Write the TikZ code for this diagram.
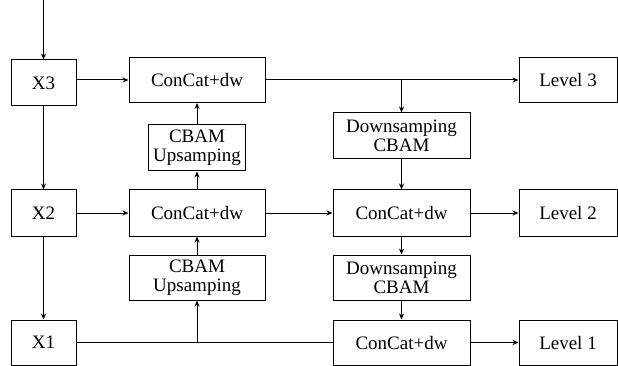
\documentclass[tikz,border=0pt]{standalone}
\usepackage{fontspec}
\setmainfont{Liberation Serif}
\usetikzlibrary{arrows.meta}
\begin{document}
\begin{tikzpicture}[x=1pt,y=-1pt,
  box/.style={draw, line width=1pt, inner sep=0pt, align=center,
    font=\fontsize{19}{19}\selectfont},
  arr/.style={-{Stealth[length=6pt,width=5pt]}, line width=1pt},
  ln/.style={line width=1pt}]
\useasboundingbox (0,0) rectangle (618,366);
% left column
\node[box, minimum width=65pt, minimum height=46pt] (X3) at (43.5,83) {X3};
\node[box, minimum width=65pt, minimum height=46pt] (X2) at (43.5,213) {X2};
\node[box, minimum width=65pt, minimum height=45pt] (X1) at (43.5,342.5) {X1};
\coordinate (in) at (43.5,0);
% middle column
\node[box, minimum width=136pt, minimum height=45pt] (C3) at (197,80) {ConCat+dw};
\node[box, minimum width=97pt, minimum height=46pt] (U3) at (197,148) {CBAM\\Upsamping};
\node[box, minimum width=136pt, minimum height=46pt] (C2) at (197,213) {ConCat+dw};
\node[box, minimum width=136pt, minimum height=45pt] (U2) at (197,277.5) {CBAM\\Upsamping};
% right column
\node[box, minimum width=137pt, minimum height=46pt] (D3) at (401.5,136) {Downsamping\\CBAM};
\node[box, minimum width=137pt, minimum height=46pt] (R2) at (401.5,213) {ConCat+dw};
\node[box, minimum width=137pt, minimum height=45pt] (D2) at (401.5,277.5) {Downsamping\\CBAM};
\node[box, minimum width=137pt, minimum height=45pt] (R1) at (401.5,342.5) {ConCat+dw};
% levels
\node[box, minimum width=98pt, minimum height=45pt] (L3) at (568,80) {Level 3};
\node[box, minimum width=98pt, minimum height=46pt] (L2) at (568,213) {Level 2};
\node[box, minimum width=98pt, minimum height=45pt] (L1) at (568,342.5) {Level 1};
% connectors
\draw[arr] (in) -- (X3.north);
\draw[arr] (X3.south) -- (X2.north);
\draw[arr] (X2.south) -- (X1.north);
\draw[arr] (X3.east |- C3.west) -- (C3.west);
\draw[arr] (C3.east) -- (L3.west);
\draw[arr] (D3.north |- C3.east) -- (D3.north);
\draw[arr] (U3.north) -- (C3.south);
\draw[arr] (C2.north) -- (U3.south);
\draw[arr] (U2.north) -- (C2.south);
\draw[arr] (X2.east) -- (C2.west);
\draw[arr] (C2.east) -- (R2.west);
\draw[arr] (R2.east) -- (L2.west);
\draw[arr] (D3.south) -- (R2.north);
\draw[arr] (R2.south) -- (D2.north);
\draw[arr] (D2.south) -- (R1.north);
\draw[ln] (X1.east) -- (R1.west);
\draw[arr] (U2.south |- X1.east) -- (U2.south);
\draw[arr] (R1.east) -- (L1.west);
\end{tikzpicture}
\end{document}
